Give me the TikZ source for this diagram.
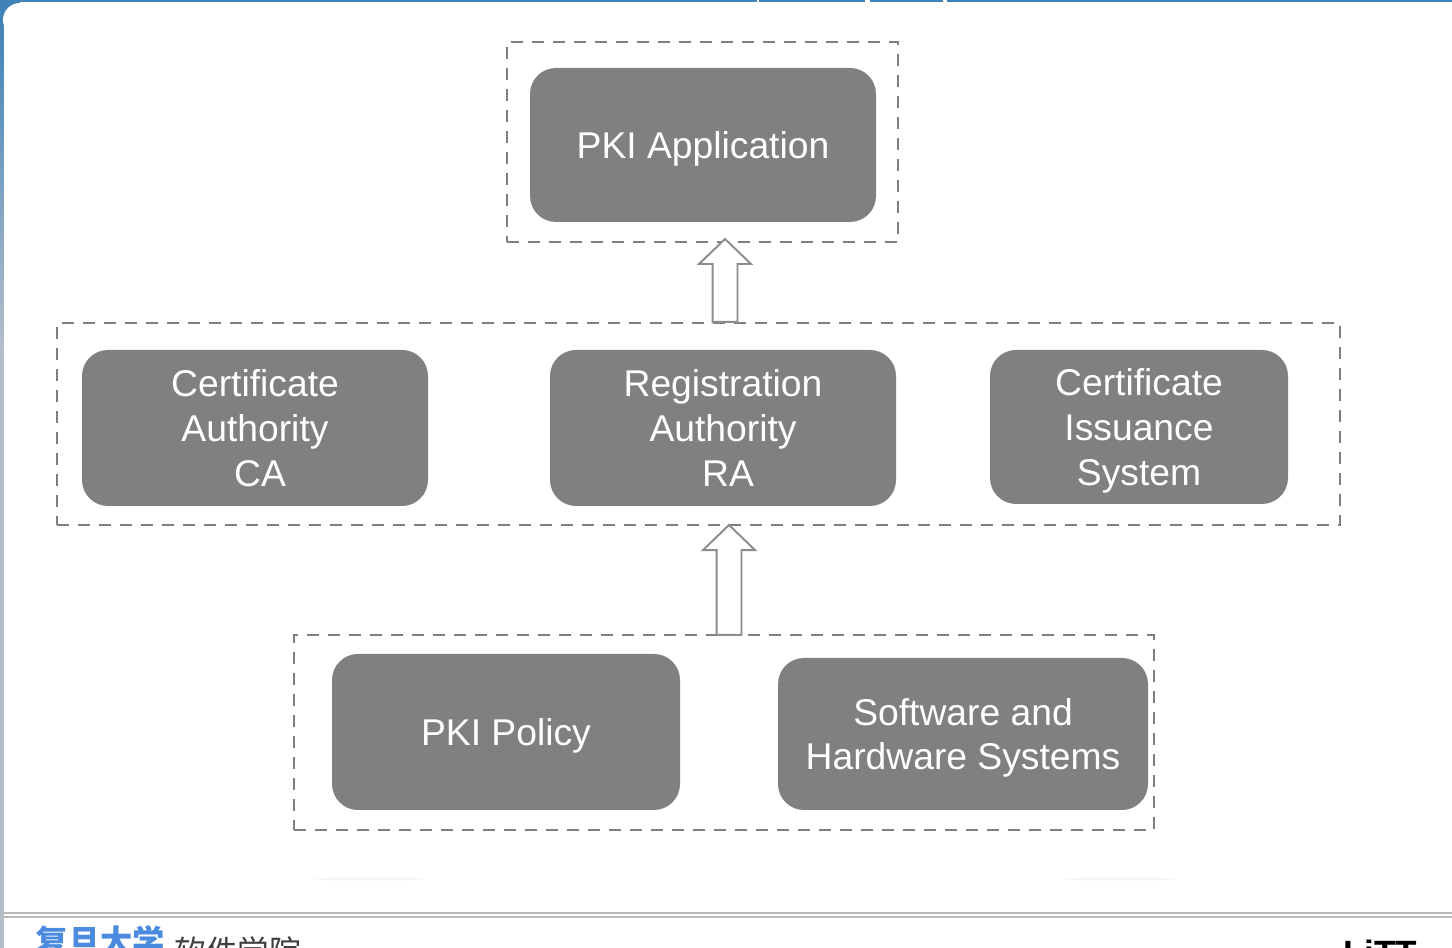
\documentclass[tikz,border=0pt]{standalone}
\usepackage{fontspec}
\setmainfont{Liberation Sans}
\newfontfamily\cjk{Noto Sans CJK SC}
\usetikzlibrary{shapes.arrows}
\definecolor{boxgray}{HTML}{808080}
\definecolor{framegray}{HTML}{7F7F7F}
\definecolor{slideblue}{HTML}{3F83B8}
\definecolor{edgegray}{HTML}{B4BECB}
\definecolor{logoblue}{HTML}{4A8BE0}
\tikzset{
  pkibox/.style={fill=boxgray, rounded corners=0.26cm, text=white, align=center, inner sep=0pt,
    text depth=0pt, font=\fontsize{10.6}{12.75}\selectfont},
  groupbox/.style={draw=framegray, line width=0.8pt, dash pattern=on 0.12cm off 0.09cm, inner sep=0pt},
  uparrow/.style={single arrow, draw=framegray!90, fill=white, line width=0.55pt, rotate=90, inner sep=0pt,
    text height=0.23cm, text depth=0pt, single arrow head extend=0.135cm, single arrow tip angle=92},
  footline/.style={draw=gray!55, line width=0.4pt}
}
\begin{document}
\begin{tikzpicture}
  \clip (0,0) rectangle (14.52,9.48);
  \fill[white] (0,0) rectangle (14.52,9.48);
  % slide edge
  \fill[slideblue] (0,9.48) rectangle (14.52,9.46);
  \fill[white] (7.57,9.48) rectangle ++(0.02,-0.02);
  \fill[white] (8.65,9.48) rectangle ++(0.045,-0.02);
  \fill[white] (9.43,9.48) rectangle ++(0.04,-0.02);
  \shade[top color=slideblue, bottom color=edgegray] (0,9.3) rectangle (0.035,6.0);
  \fill[edgegray] (0,0) rectangle (0.035,6.0);
  \fill[slideblue] (0,9.28) rectangle (0.2,9.48);
  \fill[white] (0.2,9.28) circle (0.17);
  % faint shadows
  \fill[gray!8] (3.7,0.69) ellipse (0.55 and 0.015);
  \fill[gray!8] (11.2,0.69) ellipse (0.55 and 0.015);
  % footer
  \draw[footline] (0.03,0.35) -- (14.52,0.35);
  \draw[footline] (0.03,0.31) -- (14.52,0.31);
  \node[anchor=north west, inner sep=0pt, text=logoblue, font=\cjk\bfseries\fontsize{9.2}{9.2}\selectfont] (logoname) at (0.35,0.23) {复旦大学};
  \node[anchor=north west, inner sep=0pt, text=black!75, font=\cjk\fontsize{9}{9}\selectfont] (schoolname) at (1.74,0.12) {软件学院};
  \node[anchor=north east, inner sep=0pt, text=black, font=\bfseries\fontsize{10}{10}\selectfont] (footmark) at (14.18,0.09) {LiTT};

  % dashed groups
  \node[groupbox, minimum width=3.91cm, minimum height=2.00cm] (appgroup) at (7.025,8.06) {};
  \node[groupbox, minimum width=12.83cm, minimum height=2.02cm] (coregroup) at (6.985,5.24) {};
  \node[groupbox, minimum width=8.60cm, minimum height=1.95cm] (basegroup) at (7.24,2.155) {};

  % boxes
  \node[pkibox, minimum width=3.46cm, minimum height=1.54cm] (app) at (7.03,8.03) {PKI Application};
  \node[pkibox, minimum width=3.46cm, minimum height=1.56cm] (ca) at (2.55,5.20) {Certificate\\Authority\\\hspace*{0.1cm}CA};
  \node[pkibox, minimum width=3.46cm, minimum height=1.56cm] (ra) at (7.23,5.20) {Registration\\Authority\\\hspace*{0.1cm}RA};
  \node[pkibox, minimum width=2.98cm, minimum height=1.54cm] (cis) at (11.39,5.21) {Certificate\\Issuance\\System};
  \node[pkibox, minimum width=3.48cm, minimum height=1.56cm] (policy) at (5.06,2.16) {PKI Policy};
  \node[pkibox, minimum width=3.70cm, minimum height=1.52cm] (systems) at (9.63,2.14) {Software and\\Hardware Systems};

  % arrows between the layers
  \node[uparrow, minimum height=0.83cm] (uppertip) at (7.25,6.615) {};
  \node[uparrow, minimum height=1.10cm] (lowertip) at (7.29,3.62) {};
\end{tikzpicture}
\end{document}
